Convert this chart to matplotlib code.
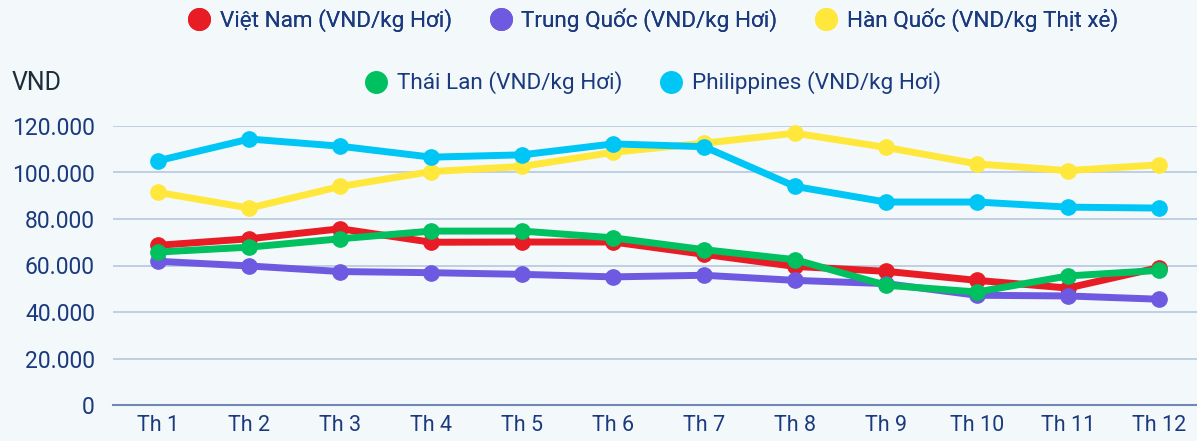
import matplotlib.pyplot as plt
from matplotlib.lines import Line2D

plt.rcParams['font.family'] = ['Roboto', 'DejaVu Sans']

months = ['Th 1', 'Th 2', 'Th 3', 'Th 4', 'Th 5', 'Th 6',
          'Th 7', 'Th 8', 'Th 9', 'Th 10', 'Th 11', 'Th 12']

viet_nam = [68700, 71500, 75800, 70000, 70100, 70100,
            64800, 59600, 57500, 53600, 50300, 59100]
trung_quoc = [61800, 59800, 57400, 56900, 56200, 55100,
              55800, 53600, 52200, 47200, 46900, 45500]
han_quoc = [91400, 84700, 94000, 100400, 102600, 108700,
            112600, 116900, 110800, 103700, 100800, 103300]
thai_lan = [65800, 67900, 71500, 74800, 74800, 71900,
            66800, 62500, 51500, 48600, 55500, 57900]
philippines = [105100, 114400, 111300, 106600, 107600, 112300,
               111100, 94000, 87300, 87300, 85100, 84700]

series_names = ['Việt Nam (VND/kg Hơi)', 'Trung Quốc (VND/kg Hơi)',
                'Hàn Quốc (VND/kg Thịt xẻ)', 'Thái Lan (VND/kg Hơi)',
                'Philippines (VND/kg Hơi)']
series_values = [viet_nam, trung_quoc, han_quoc, thai_lan, philippines]
colors = ['#e81c24', '#6e5ae0', '#ffe83b', '#00c060', '#00c6f5']

text_color = '#1b3a7e'
bg = '#f3f8fb'

fig = plt.figure(figsize=(11.97, 4.41), dpi=100, facecolor=bg)
ax = fig.add_axes([113 / 1197, 36 / 441, 1 - 113 / 1197, 279 / 441])
ax.set_facecolor(bg)

x = range(len(months))
# draw in order so that the green sits above red at crossings
draw_order = [2, 4, 1, 0, 3]
for i in draw_order:
    ax.plot(x, series_values[i], color=colors[i], linewidth=5,
            marker='o', markersize=11, clip_on=False, zorder=3 + i * 0.1)

ax.set_xlim(-0.5, 11.42)
ax.set_ylim(0, 120000)
ax.set_yticks(range(0, 120001, 20000))
ax.set_yticklabels(['0' if v == 0 else '{:,}'.format(v).replace(',', '.')
                    for v in range(0, 120001, 20000)])
ax.set_xticks(list(x))
ax.set_xticklabels(months)

ax.grid(axis='y', color='#bccbe0', linewidth=1.3)
ax.set_axisbelow(True)
for side in ['top', 'right', 'left']:
    ax.spines[side].set_visible(False)
ax.spines['bottom'].set_color('#6f88b5')
ax.spines['bottom'].set_linewidth(1.5)
ax.tick_params(axis='both', length=0, colors=text_color)
ax.tick_params(axis='y', pad=13, labelsize=16.5)
ax.tick_params(axis='x', pad=7, labelsize=15.5)

fig.text(12 / 1197, 1 - 83 / 441, 'VND', fontsize=18, color='#1d2d3a',
         va='center', ha='left')

handles = [Line2D([], [], linestyle='none', marker='o', markersize=15.5,
                  color=c) for c in colors]
leg1 = fig.legend(handles[:3], series_names[:3], ncol=3, frameon=False,
                  loc='center', bbox_to_anchor=(653 / 1197, 1 - 20 / 441),
                  fontsize=16.2, labelcolor=text_color, handletextpad=0.43,
                  columnspacing=1.67, handlelength=1.0)
leg2 = fig.legend(handles[3:], series_names[3:], ncol=2, frameon=False,
                  loc='center', bbox_to_anchor=(653 / 1197, 1 - 83 / 441),
                  fontsize=16.2, labelcolor=text_color, handletextpad=0.43,
                  columnspacing=1.67, handlelength=1.0)
fig.add_artist(leg1)

fig.savefig('out.png', dpi=100, facecolor=bg)
